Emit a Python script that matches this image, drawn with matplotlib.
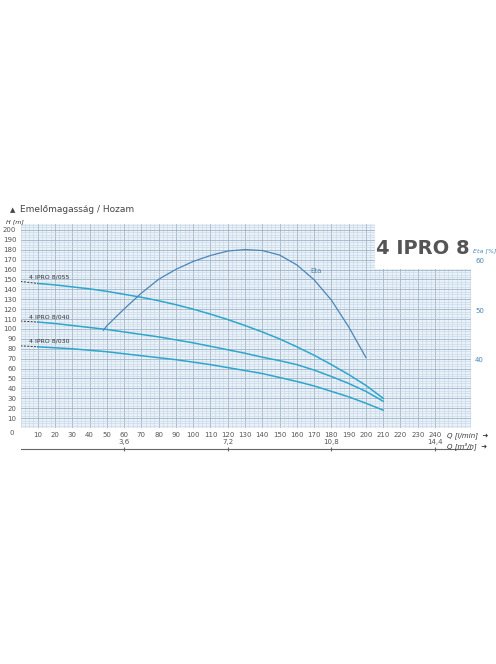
import matplotlib
matplotlib.use("Agg")
import matplotlib.pyplot as plt
from matplotlib.ticker import MultipleLocator

q = [0, 10, 20, 30, 40, 50, 60, 70, 80, 90, 100, 110, 120, 130, 140, 150, 160, 170, 180, 190, 200, 210]
h055 = [148, 146, 144.5, 142.5, 140.5, 138, 135, 132, 128.5, 124.5, 120, 115, 109.5, 103.5, 97, 90, 82, 73.5, 64, 54, 43, 30]
h040 = [108, 107, 105.5, 103.5, 101.5, 99.5, 97, 94.5, 92, 89, 86, 82.5, 79, 75.5, 71.5, 68, 64, 58.5, 52, 45, 37, 27]
h030 = [83, 82, 81, 80, 78.5, 77, 75, 73, 71, 69, 66.5, 64, 61, 58, 55, 51, 47, 42.5, 37, 31.5, 25, 18]
q_eta = [48, 50, 60, 70, 80, 90, 100, 110, 120, 130, 140, 150, 160, 170, 180, 190, 200]
eta = [46.0, 46.9, 50.3, 53.5, 56.3, 58.3, 59.9, 61.1, 62.0, 62.3, 62.1, 61.2, 59.2, 56.2, 52.1, 46.7, 40.5]
labels = ["4 IPRO 8/055", "4 IPRO 8/040", "4 IPRO 8/030"]
m3h_ticks = [3.6, 7.2, 10.8, 14.4]

W, H = 496, 664
X0, X1 = 20.5, 471
XMAX = (X1 - X0) / 1.727
fig = plt.figure(figsize=(W/100, H/100), dpi=100)
ax = fig.add_axes([X0/W, 1-428/H, (X1-X0)/W, (428-224)/H])
ax.set_facecolor("#eaf2f9")
ax.set_xlim(0, XMAX)
ax.set_ylim(0, 206)
ax.xaxis.set_minor_locator(MultipleLocator(2.5))
ax.yaxis.set_minor_locator(MultipleLocator(2.5))
ax.set_xticks(range(10, 250, 10))
ax.set_yticks(range(10, 201, 10))
ax.grid(which="major", color="#9fb3c6", lw=0.6)
ax.grid(which="minor", color="#c5d4e2", lw=0.4)
for s in ax.spines.values():
    s.set_visible(False)
ax.tick_params(which="both", length=0, labelsize=5, colors="#555555", pad=3)
ax.text(-4, -2, "0", fontsize=5, color="#555555", ha="right", va="top", clip_on=False)

curve_c = "#2ea6cc"
for hv, lab in zip([h055, h040, h030], labels):
    ax.plot(q[1:], hv[1:], color=curve_c, lw=1.1)
    ax.plot(q[:2], hv[:2], color="#333333", lw=0.7, ls=(0, (2, 1.5)))
    ax.text(5, hv[0] + 2, lab, fontsize=4.5, color="#333333", ha="left", va="bottom")

ax2 = ax.twinx()
ax2.set_ylim(60 + (0 - 168.7)/5, 60 + (206 - 168.7)/5)
ax2.plot(q_eta, eta, color="#4a86b8", lw=0.9)
ax2.text(168, 57.5, "Eta", fontsize=5, color="#4a86b8")
for s in ax2.spines.values():
    s.set_visible(False)
ax2.set_yticks([40, 50, 60])
ax2.tick_params(length=0, labelsize=5, colors="#4a86b8", pad=3)
fig.text(473/W, 1-252/H, "Eta [%]", fontsize=4.5, color="#4a86b8", style="italic")

fig.patches.append(plt.Rectangle((375/W, 1-269/H), (X1-375)/W, 45/H, transform=fig.transFigure,
                                 facecolor="white", edgecolor="none", zorder=5))
fig.text(423/W, 1-249/H, "4 IPRO 8", fontsize=14, fontweight="bold", color="#555555",
         ha="center", va="center", zorder=6)

fig.text(10/W, 1-210/H, "▲", fontsize=5, color="#444444", va="center")
fig.text(20/W, 1-210/H, "Emelőmagasság / Hozam", fontsize=6.5, color="#444444", va="center")
fig.text(6/W, 1-224/H, "H [m]", fontsize=4.5, color="#333333", style="italic", va="bottom")

ax3 = fig.add_axes([X0/W, 1-449/H, (X1-X0)/W, 0.0001])
ax3.set_xlim(0, XMAX)
ax3.set_ylim(0, 1)
ax3.set_yticks([])
for k in ["left", "right", "top"]:
    ax3.spines[k].set_visible(False)
ax3.spines["bottom"].set_color("#666666")
ax3.spines["bottom"].set_linewidth(0.8)
ax3.set_xticks([v / 0.06 for v in m3h_ticks])
ax3.set_xticklabels([])
ax3.tick_params(axis="x", direction="inout", length=3, colors="#666666")
ax3.set_facecolor("none")
for v in m3h_ticks:
    ax3.text(v / 0.06, 1, str(v).replace(".", ","), fontsize=5, color="#555555",
             ha="center", va="bottom", transform=ax3.get_xaxis_transform(), clip_on=False)
    # offset labels above the line
for t in ax3.texts:
    t.set_position((t.get_position()[0], 0))
    t.set_transform(ax3.get_xaxis_transform() + matplotlib.transforms.ScaledTranslation(0, 3/72, fig.dpi_scale_trans))

fig.text(447/W, 1-436/H, "Q [l/min]  ➜", fontsize=5, style="italic", color="#333333", va="center")
fig.text(447/W, 1-446/H, "Q [m³/h]  ➜", fontsize=5, style="italic", color="#333333", va="center")

fig.savefig("out.png", dpi=100, facecolor="white")
